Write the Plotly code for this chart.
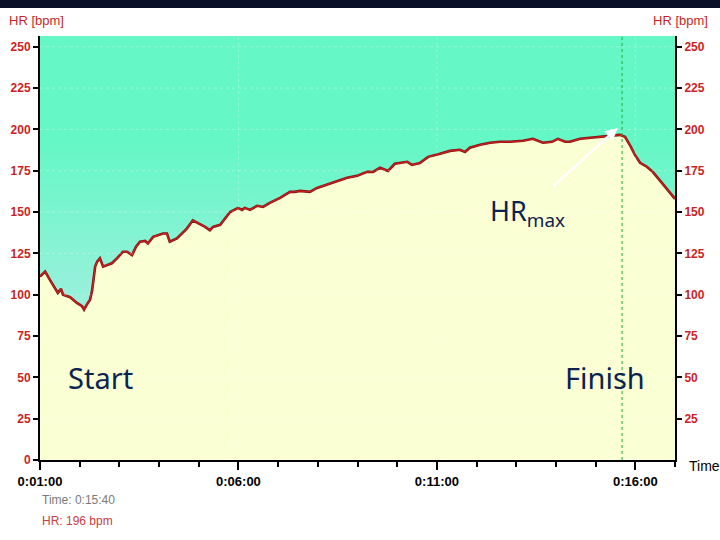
import plotly.graph_objects as go

# ---- data (time in minutes, heart rate in bpm) ----
time_min = [1.00, 1.13, 1.25, 1.38, 1.45, 1.53, 1.58, 1.76, 1.83, 1.93, 2.06, 2.11, 2.18, 2.26,
            2.31, 2.39, 2.44, 2.51, 2.59, 2.71, 2.81, 2.94, 3.09, 3.19, 3.32, 3.42, 3.52, 3.65,
            3.72, 3.85, 4.10, 4.20, 4.27, 4.45, 4.70, 4.85, 4.98, 5.16, 5.28, 5.36, 5.54, 5.79,
            5.99, 6.09, 6.16, 6.29, 6.47, 6.62, 6.79, 7.05, 7.30, 7.42, 7.55, 7.80, 7.98, 8.23,
            8.48, 8.74, 8.99, 9.24, 9.39, 9.57, 9.77, 9.94, 10.25, 10.37, 10.57, 10.78, 11.08,
            11.33, 11.58, 11.71, 11.83, 12.09, 12.34, 12.59, 12.84, 13.17, 13.42, 13.67, 13.90,
            14.05, 14.23, 14.35, 14.61, 14.86, 15.11, 15.44, 15.61, 15.74, 15.86, 15.99, 16.12,
            16.29, 16.44, 16.67, 16.92, 17.00]
hr_bpm = [111, 114, 109, 104, 101, 103.5, 100, 98.5, 97, 95, 93, 91, 94, 97,
          102, 117, 120, 122, 117, 118, 119, 122, 126, 126, 124, 129, 132, 132.5,
          131, 135, 137, 137, 132, 134, 140, 145, 143.5, 141, 139, 141, 142.3, 150,
          152.5, 151.3, 152.5, 151.3, 153.8, 153.1, 155.6, 158.6, 162.2, 162.2, 162.8, 162.2, 164.6, 166.5,
          168.3, 170.7, 171.9, 174.3, 174.3, 176.8, 174.9, 179.2, 180.4, 178.5, 179.7, 183.4, 185.2,
          187.0, 187.7, 186.4, 188.9, 190.7, 191.9, 192.5, 192.5, 193.1, 194.3, 191.9, 192.5,
          194.3, 192.5, 192.5, 194.3, 194.9, 195.5, 196.7, 196.7, 195.5, 190.7, 184.6, 179.8,
          177.4, 174.3, 167.6, 160.4, 158]

x_tick_vals = [1, 6, 11, 16]
x_tick_text = ["0:01:00", "0:06:00", "0:11:00", "0:16:00"]
y_tick_vals = [0, 25, 50, 75, 100, 125, 150, 175, 200, 225, 250]
y2_tick_vals = [25, 50, 75, 100, 125, 150, 175, 200, 225, 250]
finish_time = 15 + 40 / 60
hrmax_point = (15.56, 201)

Y_TOP = 256.5
X_RANGE = [1, 17]
GREEN = "rgb(102,247,198)"
YELLOW = "rgb(251,255,212)"
RED = "#CC1F1F"
NAVY = "#0B2350"

fig = go.Figure()

# top boundary for the green gradient fill
fig.add_trace(go.Scatter(x=[X_RANGE[0], X_RANGE[1]], y=[Y_TOP, Y_TOP], mode="lines",
                         line=dict(width=0), hoverinfo="skip", showlegend=False))
# green gradient between top and curve
fig.add_trace(go.Scatter(x=time_min, y=hr_bpm, mode="lines", line=dict(width=0),
                         fill="tonexty",
                         fillgradient=dict(type="vertical", start=85, stop=190,
                                           colorscale=[[0, "rgb(160,240,222)"], [1, GREEN]]),
                         hoverinfo="skip", showlegend=False))
# yellow area under the curve
fig.add_trace(go.Scatter(x=time_min, y=hr_bpm, mode="lines",
                         line=dict(color="#7A1414", width=2.6),
                         fill="tozeroy", fillcolor=YELLOW, showlegend=False))
fig.add_trace(go.Scatter(x=time_min, y=hr_bpm, mode="lines",
                         line=dict(color=RED, width=1.3), showlegend=False))
# dummy trace for the right axis
fig.add_trace(go.Scatter(x=[X_RANGE[0]], y=[0], yaxis="y2", mode="markers",
                         marker=dict(opacity=0), hoverinfo="skip", showlegend=False))

tickfont_y = dict(family="Liberation Sans, Arial", size=12, color=RED, weight="bold")

fig.update_layout(
    width=720, height=540,
    margin=dict(l=40, r=45, t=36, b=80),
    paper_bgcolor="white",
    plot_bgcolor=GREEN,
    xaxis=dict(range=X_RANGE, tickmode="array", tickvals=x_tick_vals, ticktext=x_tick_text,
               ticks="outside", ticklen=8, tickwidth=2, tickcolor="black",
               showline=True, linecolor="black", linewidth=2, showgrid=False, zeroline=False,
               tickfont=dict(family="Liberation Sans, Arial", size=13, color="black", weight="bold"),
               minor=dict(tickvals=list(range(1, 18)), ticks="outside", ticklen=5,
                          tickwidth=1.5, tickcolor="black", showgrid=False)),
    yaxis=dict(range=[0, Y_TOP], tickmode="array", tickvals=y_tick_vals,
               ticks="outside", ticklen=5, tickwidth=1.5, tickcolor="black",
               showline=True, linecolor="black", linewidth=2, showgrid=False, zeroline=False,
               tickfont=tickfont_y),
    yaxis2=dict(range=[0, Y_TOP], tickmode="array", tickvals=y2_tick_vals, overlaying="y",
                side="right", ticks="outside", ticklen=5, tickwidth=1.5, tickcolor="black",
                showline=True, linecolor="black", linewidth=2, showgrid=False, zeroline=False,
                tickfont=tickfont_y),
)

shapes = []
# faint dotted grid
for v in y_tick_vals[1:]:
    shapes.append(dict(type="line", xref="x", yref="y", x0=X_RANGE[0], x1=X_RANGE[1], y0=v, y1=v,
                       line=dict(color="rgba(255,255,255,0.28)", width=1, dash="dot"), layer="above"))
for v in x_tick_vals[1:]:
    shapes.append(dict(type="line", xref="x", yref="y", x0=v, x1=v, y0=0, y1=Y_TOP,
                       line=dict(color="rgba(255,255,255,0.28)", width=1, dash="dot"), layer="above"))
# finish marker
shapes.append(dict(type="line", xref="x", yref="y", x0=finish_time, x1=finish_time, y0=0, y1=Y_TOP,
                   line=dict(color="#22AA33", width=1, dash="3px,3px"), layer="above"))
# dark band at top of slide
shapes.append(dict(type="rect", xref="paper", yref="paper", x0=-0.1, x1=1.1, y0=1.066, y1=1.1,
                   fillcolor="#0A0F28", line=dict(width=0), layer="above"))
fig.update_layout(shapes=shapes)

small = dict(family="Liberation Sans, Arial", size=13, color=RED)
ann = []
ann.append(dict(xref="paper", yref="paper", x=-0.005, y=1.0377, xanchor="center", yanchor="middle",
                text="HR [bpm]", showarrow=False, font=small))
ann.append(dict(xref="paper", yref="paper", x=1.008, y=1.0377, xanchor="center", yanchor="middle",
                text="HR [bpm]", showarrow=False, font=small))
ann.append(dict(xref="paper", yref="paper", x=1.047, y=-0.014, xanchor="center", yanchor="middle",
                text="Time", showarrow=False,
                font=dict(family="Liberation Sans, Arial", size=14, color="black")))
ann.append(dict(xref="paper", yref="paper", x=0.0, xanchor="left", y=-0.094, yanchor="middle",
                text="Time: 0:15:40", showarrow=False,
                font=dict(family="Liberation Sans, Arial", size=12, color="#7a7a7a")))
ann.append(dict(xref="paper", yref="paper", x=0.0, xanchor="left", y=-0.144, yanchor="middle",
                text="HR: 196 bpm", showarrow=False,
                font=dict(family="Liberation Sans, Arial", size=12, color="#C84040")))
big = dict(family="Noto Sans", size=29, color=NAVY)
ann.append(dict(xref="x", yref="y", x=2.52, y=50, text="Start", showarrow=False, font=big))
ann.append(dict(xref="x", yref="y", x=15.24, y=50, text="Finish", showarrow=False, font=big))
ann.append(dict(xref="x", yref="y", x=13.28, y=150, text="HR<sub>max</sub>", showarrow=False,
                font=dict(family="Noto Sans", size=27, color=NAVY)))
ann.append(dict(xref="x", yref="y", x=hrmax_point[0], y=hrmax_point[1], ax=-66, ay=60,
                text="", showarrow=True, arrowhead=2, arrowsize=1, arrowwidth=2.5,
                arrowcolor="white"))
fig.update_layout(annotations=ann)

fig.write_html("out.html")
